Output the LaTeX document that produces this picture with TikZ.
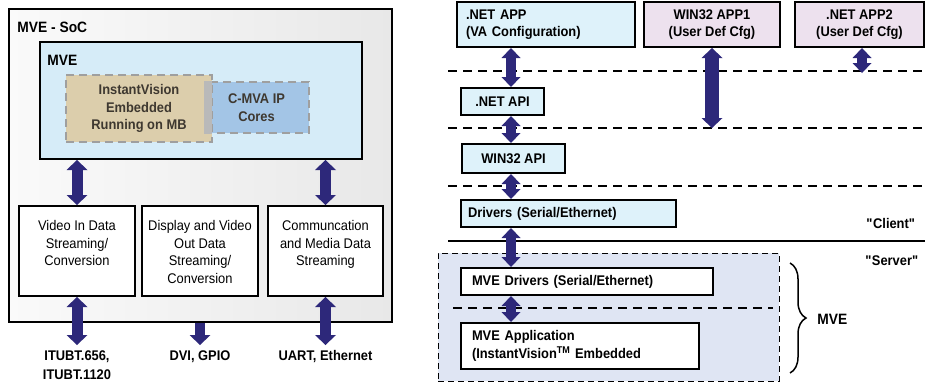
\documentclass[tikz,border=0pt]{standalone}
\usepackage{fontspec}
\setmainfont{Liberation Sans}[FakeStretch=0.92]
\usetikzlibrary{positioning, arrows.meta, decorations.pathreplacing}
\definecolor{navy}{RGB}{45,40,122}
\definecolor{mveblue}{RGB}{214,236,248}
\definecolor{tanfill}{RGB}{220,206,172}
\definecolor{cmvafill}{RGB}{163,197,230}
\definecolor{overlapgray}{RGB}{185,185,185}
\definecolor{ivtext}{RGB}{62,56,48}
\definecolor{appblue}{RGB}{222,242,250}
\definecolor{applilac}{RGB}{237,225,238}
\definecolor{mveregion}{RGB}{223,229,243}
\tikzset{
  bighead/.tip = {Triangle[width=21pt, length=10pt, line width=0pt]},
  head/.tip = {Triangle[width=19pt, length=10pt, line width=0pt]}
}

\begin{document}
\begin{tikzpicture}[x=1pt, y=-1pt, thick,
  box/.style = {draw, line width=2pt, inner sep=0pt},
  txt/.style = {font=\fontsize{14}{17.5}\selectfont, align=center, inner sep=0pt},
  btxt/.style = {txt, font=\bfseries\fontsize{14}{17.5}\selectfont},
  ipbox/.style = {draw=gray!75, line width=1.5pt, dash pattern=on 8pt off 5pt, btxt, text=ivtext},
  appbox/.style = {box, btxt, inner xsep=7pt, inner ysep=0pt},
  sep/.style = {line width=1.3pt, dash pattern=on 9pt off 6pt},
  bigdbl/.style = {navy, line width=11pt, bighead-bighead},
  bigsgl/.style = {navy, line width=10pt, -bighead},
  dbl/.style = {navy, line width=10pt, head-head}]

  \useasboundingbox (0,0) rectangle (925,383);

  \node[box, left color=black!2, right color=black!9, minimum width=383pt, minimum height=313pt] (soc) at (200.5,165.5) {};
  \node[btxt, anchor=west, font=\bfseries\fontsize{15}{18}\selectfont] (soct) at (17,27.5) {MVE - SoC};
  \node[box, fill=mveblue, minimum width=322pt, minimum height=117pt] (mve) at (201,100.5) {};
  \node[btxt, anchor=west, font=\bfseries\fontsize{15}{18}\selectfont] (mvet) at (47,60.5) {MVE};
  \node[ipbox, fill=cmvafill, minimum width=105pt, minimum height=51pt] (cmva) at (256.5,107.5) {C-MVA IP\\Cores};
  \node[ipbox, fill=tanfill, minimum width=146pt, minimum height=67pt] (iv) at (139,108.5) {InstantVision\\Embedded\\Running on MB};
  \fill[overlapgray] ([xshift=1pt]cmva.north west) rectangle ([xshift=-1pt]iv.east |- cmva.south);

  \node[box, fill=white, minimum width=116pt, minimum height=90pt] (vin) at (77,251) {};
  \node[box, fill=white, minimum width=116pt, minimum height=90pt] (dvo) at (200,251) {};
  \node[box, fill=white, minimum width=115pt, minimum height=90pt] (cmd) at (325.5,251) {};
  \node[txt, below=15pt of vin.north] (vint) {Video In Data\\Streaming/\\Conversion};
  \node[txt, below=15pt of dvo.north] (dvot) {Display and Video\\Out Data\\Streaming/\\Conversion};
  \node[txt, below=15pt of cmd.north] (cmdt) {Communcation\\and Media Data\\Streaming};

  \node[btxt, anchor=north, inner sep=5pt, font=\bfseries\fontsize{14}{19}\selectfont] (itu) at (77,345) {ITUBT.656,\\ITUBT.1120};
  \node[btxt, anchor=north, inner sep=5pt] (dvi) at (200,345) {DVI, GPIO};
  \node[btxt, anchor=north, inner sep=5pt] (uart) at (325.5,345) {UART, Ethernet};

  \draw[bigdbl] (mve.south -| vin) -- (vin.north);
  \draw[bigdbl] (mve.south -| cmd) -- (cmd.north);
  \draw[bigdbl] (vin.south) -- (itu.north);
  \draw[bigsgl] (soc.south -| dvo) -- (dvi.north);
  \draw[bigdbl] (cmd.south) -- (uart.north);

  \coordinate (spine) at (511,0);
  \coordinate (l1) at (448,71);
  \coordinate (r1) at (925,71);
  \coordinate (l2) at (448,128);
  \coordinate (r2) at (925,128);
  \coordinate (l3) at (448,186);
  \coordinate (r3) at (925,186);
  \coordinate (cs1) at (448,241);
  \coordinate (cs2) at (925,241);
  \coordinate (s1) at (453,308);
  \coordinate (s2) at (773,308);

  \node[appbox, fill=appblue, minimum width=178pt, minimum height=45pt, text width=160pt, align=left, inner xsep=9pt] (netapp) at (546,24.5) {.NET APP\\(VA Configuration)};
  \node[appbox, fill=applilac, minimum width=136pt, minimum height=45pt] (w32app) at (712,24.5) {WIN32 APP1\\(User Def Cfg)};
  \node[appbox, fill=applilac, minimum width=129pt, minimum height=45pt] (netapp2) at (859.5,24.5) {.NET APP2\\(User Def Cfg)};

  \draw[sep] (l1) -- (r1);
  \draw[sep, line width=2.4pt] (l2) -- (r2);
  \draw[sep] (l3) -- (r3);

  \node[appbox, fill=appblue, minimum width=83pt, minimum height=27pt] (netapi) at (502.5,101.5) {.NET API};
  \node[appbox, fill=appblue, minimum width=103pt, minimum height=29pt] (w32api) at (513.5,158.5) {WIN32 API};
  \node[appbox, fill=appblue, minimum width=215pt, minimum height=27pt, text width=201pt, align=left] (drv) at (568.5,213.5) {Drivers (Serial/Ethernet)};

  \draw[line width=2.5pt] (cs1) -- (cs2);
  \node[btxt] (client) at (891,223) {\textquotedbl Client\textquotedbl};
  \node[btxt] (server) at (892,261) {\textquotedbl Server\textquotedbl};

  \node[draw, line width=1pt, dash pattern=on 6pt off 4pt, fill=mveregion, minimum width=341pt, minimum height=128pt] (mvereg) at (608.5,317) {};
  \draw[sep] (s1) -- (s2);
  \node[appbox, fill=white, minimum width=252pt, minimum height=27pt, text width=230pt, align=left, inner xsep=11pt] (mvedrv) at (587,281.5) {MVE Drivers (Serial/Ethernet)};
  \node[appbox, fill=white, minimum width=238pt, minimum height=46pt, text width=216pt, align=left, inner xsep=11pt] (mveapp) at (580,346) {MVE Application\\(InstantVision\textsuperscript{TM} Embedded};

  \draw[decorate, decoration={brace, amplitude=16pt}, line width=1.5pt] (790,263) -- (790,373);
  \node[btxt, anchor=west, font=\bfseries\fontsize{15}{18}\selectfont] (mvelab) at (817,319) {MVE};

  \draw[dbl] (netapp.south -| spine) -- (netapi.north -| spine);
  \draw[dbl] (netapi.south -| spine) -- (w32api.north -| spine);
  \draw[dbl] (w32api.south -| spine) -- (drv.north -| spine);
  \draw[dbl] (drv.south -| spine) -- (mvedrv.north -| spine);
  \draw[dbl] (mvedrv.south -| spine) -- (mveapp.north -| spine);
  \draw[navy, line width=14pt, bighead-bighead] (w32app.south) -- (w32app.south |- l2);
  \draw[dbl] ([xshift=2.5pt]netapp2.south) -- ([xshift=2.5pt,yshift=-2pt]netapp2.south |- l1);

\end{tikzpicture}
\end{document}
